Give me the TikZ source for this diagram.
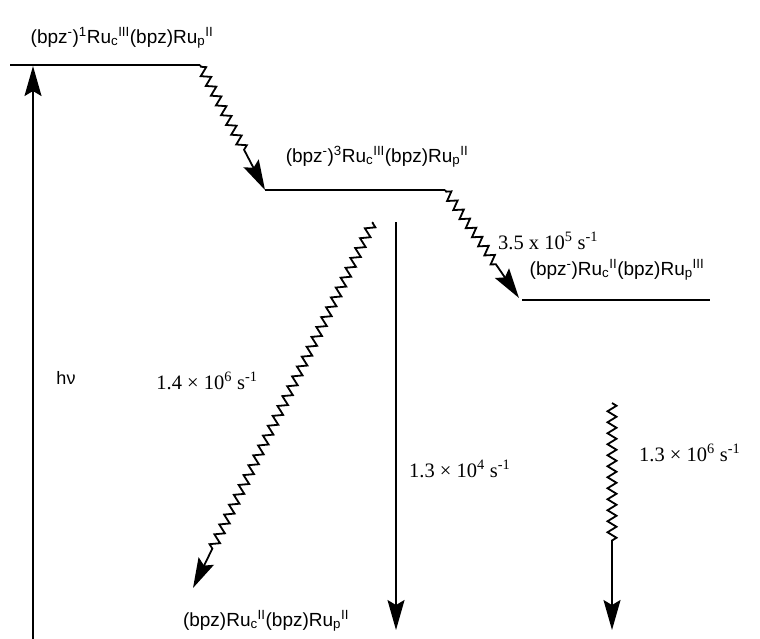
\documentclass[tikz,border=0pt]{standalone}
\usepackage{fontspec}
\setmainfont{Liberation Serif}
\setsansfont{Liberation Sans}
\usetikzlibrary{arrows.meta,decorations.pathmorphing}
\tikzset{
  level/.style={line width=2pt},
  species/.style={font=\sffamily\fontsize{19}{21}\selectfont, inner sep=0pt},
  rate/.style={font=\rmfamily\fontsize{20.5}{23}\selectfont, inner sep=0pt},
  arr/.style={line width=1.8pt, -{Stealth[length=30pt,width=17pt,inset=5pt]}},
  wavy/.style={arr, decorate, decoration={zigzag, segment length=11pt, amplitude=4.5pt, pre length=#1, post length=40pt}},
  wavy/.default=4pt
}
\begin{document}
\begin{tikzpicture}[x=1pt,y=-1pt]
\useasboundingbox (0,0) rectangle (760,638);
% levels
\coordinate (s1l) at (10,65);
\coordinate (s1r) at (200,65);
\coordinate (t1l) at (265,190);
\coordinate (t1r) at (445,190);
\coordinate (ctl) at (522,300);
\coordinate (ctr) at (710,300);
\draw[level] (s1l) -- (s1r);
\draw[level] (t1l) -- (t1r);
\draw[level] (ctl) -- (ctr);
% labels
\node[species] (lS) at (122,38) {(bpz\textsuperscript{-})\textsuperscript{1}Ru\textsubscript{c}\textsuperscript{III}(bpz)Ru\textsubscript{p}\textsuperscript{II}};
\node[species] (lT) at (377,157) {(bpz\textsuperscript{-})\textsuperscript{3}Ru\textsubscript{c}\textsuperscript{III}(bpz)Ru\textsubscript{p}\textsuperscript{II}};
\node[species] (lC) at (617,270) {(bpz\textsuperscript{-})Ru\textsubscript{c}\textsuperscript{II}(bpz)Ru\textsubscript{p}\textsuperscript{III}};
\node[species] (lG) at (266,621) {(bpz)Ru\textsubscript{c}\textsuperscript{II}(bpz)Ru\textsubscript{p}\textsuperscript{II}};
\node[species, font=\sffamily\fontsize{18}{20}\selectfont] (hv) at (66,378) {hν};
% excitation
\coordinate (hvb) at (33,640);
\coordinate (hvt) at (33,66);
\draw[arr] (hvb) -- (hvt);
% ISC
\draw[wavy=2pt] (s1r) -- (t1l);
% charge transfer
\draw[wavy=2pt] (t1r) -- (519,298);
\node[rate, anchor=west] (k1) at (498,241) {3.5 x 10\textsuperscript{5} s\textsuperscript{-1}};
% decay from triplet, nonradiative
\coordinate (w1s) at (373,222);
\coordinate (w1e) at (193,588);
\draw[wavy=1pt] (w1s) -- (w1e);
\node[rate] (k2) at (207,381) {1.4 × 10\textsuperscript{6} s\textsuperscript{-1}};
% radiative
\coordinate (r1s) at (396,222);
\coordinate (r1e) at (396,630);
\draw[arr] (r1s) -- (r1e);
\node[rate, anchor=west] (k3) at (409,469) {1.3 × 10\textsuperscript{4} s\textsuperscript{-1}};
% back electron transfer
\coordinate (w2s) at (612,403);
\coordinate (w2e) at (612,630);
\draw[arr, decorate, decoration={zigzag, segment length=11pt, amplitude=4.5pt, post length=88pt}] (w2s) -- (w2e);
\node[rate, anchor=west] (k4) at (639,453) {1.3 × 10\textsuperscript{6} s\textsuperscript{-1}};
\end{tikzpicture}
\end{document}
